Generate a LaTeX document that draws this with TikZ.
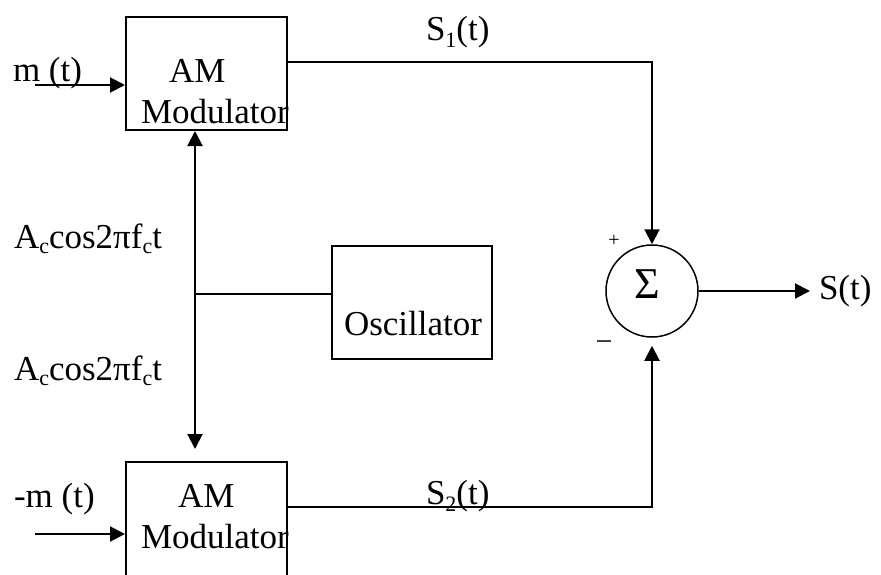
\documentclass[tikz,border=0pt]{standalone}
\usepackage{fontspec}
\setmainfont{Liberation Serif}
\usetikzlibrary{arrows.meta}
\newcommand{\sbs}[2][-5pt]{\raisebox{#1}{\fontsize{22}{22}\selectfont #2}}
\begin{document}
\begin{tikzpicture}[x=1pt,y=-1pt,line width=2pt,
  blk/.style={draw,rectangle,inner sep=0pt},
  txt/.style={inner sep=0pt,anchor=base west,font=\fontsize{35}{40}\selectfont},
  arr/.style={-{Triangle[length=15pt,width=15pt]}},
  darr/.style={{Triangle[length=15pt,width=15pt]}-{Triangle[length=15pt,width=15pt]}}]
\useasboundingbox (0,0) rectangle (881,574);
% blocks
\node[blk,minimum width=161pt,minimum height=113pt] (m1) at (206.5,73.5) {};
\node[blk,minimum width=161pt,minimum height=140pt] (m2) at (206.5,532) {};
\node[blk,minimum width=160pt,minimum height=113pt] (osc) at (412,302.5) {};
\node[draw,circle,minimum size=92pt,line width=1.5pt,inner sep=0pt] (sum) at (652,291) {};
% texts
\node[txt] (am1) at (168,82) {AM};
\node[txt] (mod1) at (140,123) {Modulator};
\node[txt] (am2) at (177,507) {AM};
\node[txt] (mod2) at (140,548) {Modulator};
\node[txt] (osct) at (343,335) {Oscillator};
\node[txt] (mt) at (12,81) {m (t)};
\node[txt] (nmt) at (13,507) {-m (t)};
\node[txt] (c1) at (13,248) {A\sbs{c}cos2πf\sbs{c}t};
\node[txt] (c2) at (13,380) {A\sbs{c}cos2πf\sbs{c}t};
\node[txt] (s1) at (425,40) {S\sbs[-7pt]{1}(t)};
\node[txt] (s2) at (425,504) {S\sbs[-7pt]{2}(t)};
\node[txt] (st) at (818,299) {S(t)};
\node[inner sep=0pt,anchor=base west,font=\fontsize{44}{48}\selectfont] (sig) at (633,298) {Σ};
\node[inner sep=0pt,font=\fontsize{20}{22}\selectfont] (plus) at (614,241) {+};
\node[inner sep=0pt,font=\fontsize{30}{32}\selectfont] (minus) at (604,346) {−};
% coordinates
\coordinate (in1) at (35,85);
\coordinate (in2) at (35,534);
\coordinate (y1) at (0,62);
\coordinate (y2) at (0,507);
\coordinate (vx) at (195,0);
\coordinate (jn) at (195,294);
\coordinate (out) at (810,291);
% connectors
\draw[arr] (in1) -- (m1.west |- in1);
\draw[arr] (in2) -- (m2.west |- in2);
\draw[arr] (m1.east |- y1) -| (sum.north);
\draw[arr,shorten >=8pt] (m2.east |- y2) -| (sum.south);
\draw[darr,shorten >=12pt] (m1.south -| vx) -- (m2.north -| vx);
\draw (jn) -- (jn -| osc.west);
\draw[arr] (sum.east) -- (out);
\end{tikzpicture}
\end{document}
